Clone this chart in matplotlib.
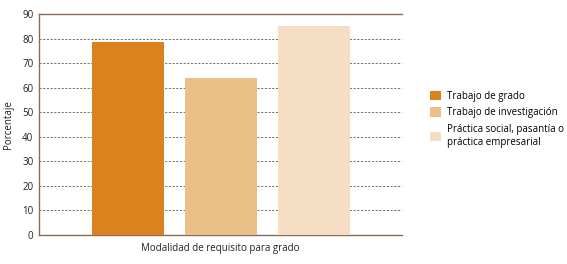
import numpy as np
import matplotlib.pyplot as plt
from matplotlib.patches import Patch

plt.rcParams['font.family'] = ['Open Sans', 'DejaVu Sans']

categories = ["Trabajo de grado", "Trabajo de investigación",
              "Práctica social, pasantía o\npráctica empresarial"]
values = [78.6, 63.9, 85.1]
colors = ["#D9821E", "#EBBF88", "#F5DEC3"]
yticks = list(range(0, 100, 10))

spine_col = "#8C6A5A"

fig = plt.figure(figsize=(5.67, 2.64), dpi=100)
ax = fig.add_axes([0.0688, 0.1098, 0.640, 0.837])

x = np.arange(len(values))
ax.bar(x, values, width=0.774, color=colors, zorder=3)

ax.set_xlim(-0.957, 2.946)
ax.set_ylim(0, 90)
ax.set_yticks(yticks)
ax.set_xticks([])
# dashed guides between the axis lines
for y in yticks[1:-1]:
    ax.axhline(y, color="#8C6A5A", linestyle=(0, (2.2, 1.6)), linewidth=0.7, zorder=1)

for side in ["left", "bottom", "top"]:
    ax.spines[side].set_color(spine_col)
    ax.spines[side].set_linewidth(1.0)
ax.spines["right"].set_visible(False)
ax.tick_params(axis="y", length=0, labelsize=7, pad=4, colors="#222222")

ax.set_ylabel("Porcentaje", fontsize=7, color="#222222", labelpad=6)
ax.set_xlabel("Modalidad de requisito para grado", fontsize=7, color="#222222", labelpad=6)

handles = [Patch(facecolor=c, edgecolor="none") for c in colors]
fig.legend(handles, categories, loc="upper left", bbox_to_anchor=(0.743, 0.69),
           frameon=False, fontsize=7, handlelength=1.1, handleheight=1.1,
           handletextpad=0.6, labelspacing=0.6)

fig.savefig("out.png", dpi=100)
